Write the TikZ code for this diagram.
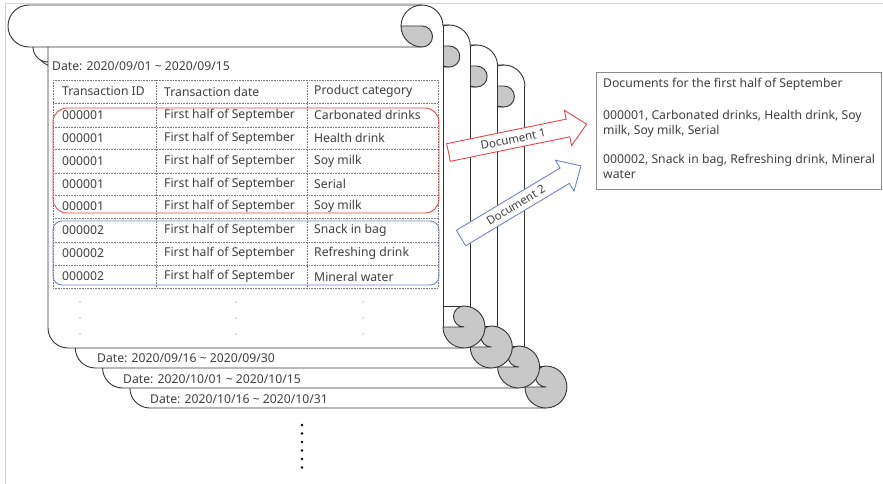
\documentclass[tikz,border=0pt]{standalone}
\usepackage{fontspec}
\setmainfont{Noto Sans}
\definecolor{txt}{HTML}{404040}
\definecolor{rollgrey}{HTML}{C8C8C8}
\definecolor{redln}{HTML}{E8454A}
\definecolor{blueln}{HTML}{6F86C2}
\definecolor{gridln}{HTML}{7A7A7A}
\definecolor{framegrey}{HTML}{D4D4D4}
\definecolor{boxln}{HTML}{8C8C8C}
\tikzset{
  outl/.style={draw=black!80, line width=0.9pt, line join=round},
  cell/.style={anchor=west, inner sep=0pt, text=txt, font=\fontsize{12.2}{14}\selectfont},
  gridline/.style={draw=gridln, line width=0.5pt, dash pattern=on 0.8pt off 0.8pt},
  blockarrow/.style={line width=0.9pt, fill=white, line join=miter},
  arrowtext/.style={inner sep=0pt, text=txt, font=\fontsize{11.5}{13}\selectfont, transform shape},
}
\newcommand\drawscrollshape{%
  \fill[white] (29,-5) -- (422,-5) arc[start angle=90,end angle=0,radius=21]
    -- (443,-306) -- (464,-306) arc[start angle=90,end angle=-90,radius=21]
    -- (68,-348) arc[start angle=270,end angle=180,radius=20]
    -- (48,-62) arc[start angle=270,end angle=180,radius=15]
    -- (29,-47) arc[start angle=270,end angle=90,radius=21] -- cycle;
  % top band
  \draw[outl] (422,-47) -- (29,-47) arc[start angle=270,end angle=90,radius=21] -- (422,-5);
  % top roll
  \draw[outl] (401,-26) arc[start angle=180,end angle=0,radius=21];
  \filldraw[outl, fill=rollgrey] (401,-26) -- (422,-26) arc[start angle=90,end angle=-90,radius=10.5]
    arc[start angle=270,end angle=180,radius=21] -- cycle;
  % curl under band
  \draw[outl] (33,-47) arc[start angle=180,end angle=270,radius=15];
  % body
  \draw[outl] (48,-47) -- (48,-328) arc[start angle=180,end angle=270,radius=20] -- (464,-348);
  \draw[outl] (443,-26) -- (443,-327);
  \draw[outl] (443,-306) -- (464,-306);
  % bottom roll
  \filldraw[outl, fill=rollgrey] (464,-306) arc[start angle=90,end angle=-180,radius=21]
    -- (464,-327) arc[start angle=-90,end angle=-270,radius=10.5] -- cycle;
}
\begin{document}
\begin{tikzpicture}[x=1pt,y=1pt]
\useasboundingbox (0,0) rectangle (883,-484);
\fill[white] (0,0) rectangle (883,-484);
\draw[framegrey, line width=1pt] (5,-484) -- (5,-4) -- (883,-4);

% stacked scrolls, back to front
\begin{scope}[shift={(81.9,-60)}]\drawscrollshape\end{scope}
\begin{scope}[shift={(54.6,-40)}]\drawscrollshape\end{scope}
\begin{scope}[shift={(27.3,-20)}]\drawscrollshape\end{scope}
\begin{scope}\drawscrollshape\end{scope}

% labels of back scrolls
\node[cell] (d2) at (97,-358) {Date: 2020/09/16 \textasciitilde{} 2020/09/30};
\node[cell] (d3) at (123,-379) {Date: 2020/10/01 \textasciitilde{} 2020/10/15};
\node[cell] (d4) at (150,-399) {Date: 2020/10/16 \textasciitilde{} 2020/10/31};

% front scroll content
\node[cell] (d1) at (52,-66) {Date: 2020/09/01 \textasciitilde{} 2020/09/15};

% table grid
\foreach \yy in {80,103,127,149,173,195,218,242,265,288}
  \draw[gridline] (53,-\yy) -- (438,-\yy);
\foreach \xx in {53,156,307,438}
  \draw[gridline] (\xx,-80) -- (\xx,-288);

\node[cell] (h1) at (62,-91.5) {Transaction ID};
\node[cell] (h2) at (164,-91.5) {Transaction date};
\node[cell] (h3) at (314,-91.5) {Product category};

\foreach \yy/\id/\cat in {115/000001/Carbonated drinks, 138/000001/Health drink, 161/000001/Soy milk,
   184/000001/Serial, 206.5/000001/Soy milk, 230/000002/Snack in bag,
   253.5/000002/Refreshing drink, 276.5/000002/Mineral water}{
  \node[cell] at (62,-\yy) {\id};
  \node[cell] at (164,-\yy) {First half of September};
  \node[cell] at (314,-\yy) {\cat};
}

% groups
\draw[redln, line width=0.9pt, rounded corners=14pt] (53,-108) rectangle (439,-213);
\draw[blueln, line width=0.9pt, rounded corners=9pt] (53,-221) rectangle (439,-285);

% continuation dots in table
\foreach \xx in {80,236,363}
  \foreach \yy in {302,318,334}
    \fill[gridln] (\xx,-\yy) circle[radius=0.7];

% vertical ellipsis below
\foreach \yy in {425,433.5,442,450.5,459,467.5}
  \fill[black] (302,-\yy) circle[radius=1.3];

% result box
\node[draw=boxln, line width=0.9pt, minimum width=285pt, minimum height=117pt, anchor=north west, inner sep=0pt] (res) at (596,-72) {};
\node[cell] (r1) at (603,-84) {Documents for the first half of September};
\node[cell] (r2) at (603,-116) {000001, Carbonated drinks, Health drink, Soy};
\node[cell] (r3) at (603,-131) {milk, Soy milk, Serial};
\node[cell] (r4) at (603,-160) {000002, Snack in bag, Refreshing drink, Mineral};
\node[cell] (r5) at (603,-175) {water};

% block arrows
\coordinate (t1) at (448.5,-152.5);
\begin{scope}[shift={(t1)}, rotate=11.6]
  \draw[blockarrow, draw=redln] (0,-9) -- (122,-9) -- (122,-18) -- (141,0) -- (122,18) -- (122,9) -- (0,9) -- cycle;
  \node[arrowtext] (a1) at (66,0) {Document 1};
\end{scope}
\coordinate (t2) at (461,-238);
\begin{scope}[shift={(t2)}, rotate=31]
  \draw[blockarrow, draw=blueln] (0,-9) -- (121,-9) -- (121,-18) -- (140,0) -- (121,18) -- (121,9) -- (0,9) -- cycle;
  \node[arrowtext] (a2) at (64,0) {Document 2};
\end{scope}
\end{tikzpicture}
\end{document}
